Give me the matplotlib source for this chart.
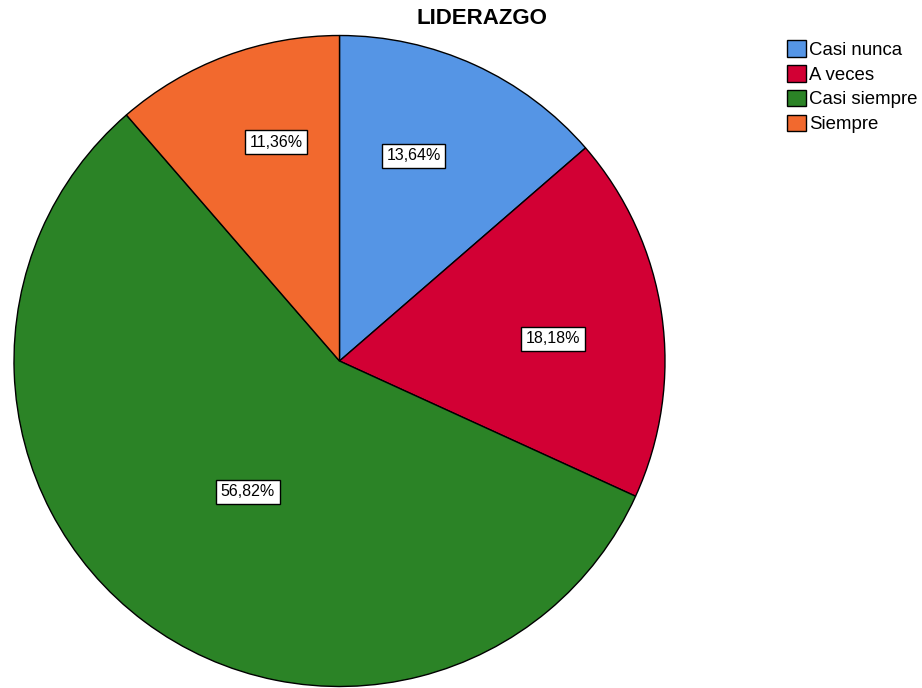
import numpy as np
import matplotlib
matplotlib.use("Agg")
import matplotlib.pyplot as plt
from matplotlib.patches import Patch

plt.rcParams["font.family"] = ["Liberation Sans", "DejaVu Sans"]

# Data
title = "LIDERAZGO"
categories = ["Casi nunca", "A veces", "Casi siempre", "Siempre"]
percentages = [13.64, 18.18, 56.82, 11.36]

# Styling
colors = ["#5595E5", "#D20034", "#2B8326", "#F2692E"]
label_radius = [0.67, 0.66, 0.49, 0.70]
label_nudge_deg = [4.7, -2.2, 1.8, -4.3]

fig = plt.figure(figsize=(9.22, 6.88), dpi=100)
W, H = 922, 688
cx, cy, r = 339.5, 361.0, 325.5
ax = fig.add_axes([(cx - r) / W, (H - cy - r) / H, 2 * r / W, 2 * r / H])

wedges, _ = ax.pie(
    percentages,
    colors=colors,
    startangle=90,
    counterclock=False,
    radius=1.0,
    wedgeprops=dict(edgecolor="black", linewidth=1.0),
)
ax.set_xlim(-1, 1)
ax.set_ylim(-1, 1)
ax.set_aspect("equal")
ax.axis("off")

for w, pct, rf, nd in zip(wedges, percentages, label_radius, label_nudge_deg):
    mid = np.deg2rad((w.theta1 + w.theta2) / 2 + nd)
    x, y = rf * np.cos(mid), rf * np.sin(mid)
    txt = f"{pct:.2f}%".replace(".", ",")
    ax.text(x, y, txt, ha="center", va="center", fontsize=11.5,
            bbox=dict(boxstyle="square,pad=0.28", facecolor="white",
                      edgecolor="black", linewidth=1.0))

fig.text(482 / W, 1 - 18 / H, title, ha="center", va="center",
         fontsize=16, fontweight="bold")

handles = [Patch(facecolor=c, edgecolor="black", linewidth=1.0) for c in colors]
fig.legend(handles, categories, loc="upper left",
           bbox_to_anchor=(787 / W, 1 - 40 / H), frameon=False,
           fontsize=13.4, handlelength=1.0, handleheight=1.0,
           handletextpad=0.2, labelspacing=0.33, borderpad=0.0,
           borderaxespad=0.0)

fig.savefig("out.png", dpi=100)
